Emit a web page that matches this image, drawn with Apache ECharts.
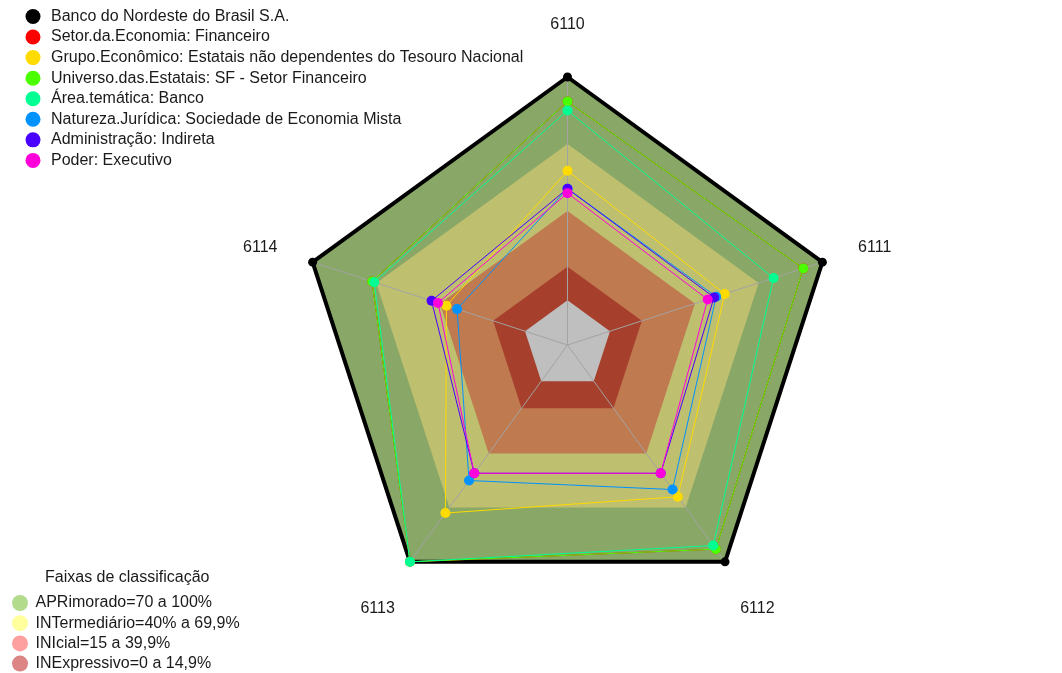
<!DOCTYPE html>
<html>
<head>
<meta charset="utf-8">
<script src="https://cdn.jsdelivr.net/npm/echarts@6/dist/echarts.min.js"></script>
<style>
  html, body { margin: 0; padding: 0; background: #ffffff; }
  #chart { width: 1062px; height: 673px; }
</style>
</head>
<body>
<div id="chart"></div>
<script>
// Indicators (axes), listed clockwise from the top
const indicators = ['6110', '6111', '6112', '6113', '6114'];

// Percent scores per indicator, same order as above
const bancoNordeste   = [100, 100, 100, 100, 100];
const setorFinanceiro = [89, 91, 93, 100, 72];
const grupoEconomico  = [58, 54, 64, 73, 37];
const universoSF      = [89, 91, 93, 100, 72];
const areaBanco       = [85, 77, 91, 100, 71];
const naturezaSEM     = [50, 50, 60, 55, 32];
const adminIndireta   = [50, 49, 51, 51, 44];
const poderExecutivo  = [48, 46, 51, 51, 41];

const seriesNames = [
  'Banco do Nordeste do Brasil S.A.',
  'Setor.da.Economia: Financeiro',
  'Grupo.Econômico: Estatais não dependentes do Tesouro Nacional',
  'Universo.das.Estatais: SF - Setor Financeiro',
  'Área.temática: Banco',
  'Natureza.Jurídica: Sociedade de Economia Mista',
  'Administração: Indireta',
  'Poder: Executivo'
];
const seriesValues = [bancoNordeste, setorFinanceiro, grupoEconomico, universoSF,
                      areaBanco, naturezaSEM, adminIndireta, poderExecutivo];
const seriesColors = ['#000000', '#FF0000', '#FFDB00', '#49FF00',
                      '#00FF92', '#0092FF', '#4900FF', '#FF00DB'];

// Classification bands (upper bound of each band, in percent)
const bandNames  = ['APRimorado=70 a 100%', 'INTermediário=40% a 69,9%',
                    'INIcial=15 a 39,9%', 'INExpressivo=0 a 14,9%'];
const bandUpper  = [100, 70, 40, 15];
const bandFill   = ['#89A867', '#BFBF70', '#BF7A50', '#A63F2B'];
const bandLegend = ['#B3DB8C', '#FFFF9E', '#FFA0A0', '#DB8585'];
const baseFill   = '#BFBFBF';

const axisMin = -20;   // leaves an empty hub in the middle of the web
const axisMax = 100;

// ECharts lays radar axes out counter-clockwise, so walk the list
// top, then backwards, to get 6110 at the top and 6111 on the right.
const order = [0, 4, 3, 2, 1];
const reorder = arr => order.map(i => arr[i]);

const FONT = 'Liberation Sans, Arial, sans-serif';
const chart = echarts.init(document.getElementById('chart'), null, { renderer: 'canvas' });

const flat = v => indicators.map(() => v);

const bandSeries = bandNames.map((name, i) => ({
  type: 'radar',
  name: name,
  z: 1,
  silent: true,
  symbol: 'none',
  lineStyle: { width: 0, opacity: 0 },
  areaStyle: { color: bandFill[i], opacity: 1 },
  itemStyle: { color: bandFill[i] },
  data: [{ value: flat(bandUpper[i]), name: name }]
}));

bandSeries.push({
  type: 'radar',
  name: 'base',
  z: 1,
  silent: true,
  symbol: 'none',
  lineStyle: { width: 0, opacity: 0 },
  areaStyle: { color: baseFill, opacity: 1 },
  data: [{ value: flat(0), name: 'base' }]
});

const dataSeries = seriesNames.map((name, i) => {
  const isMain = i === 0;
  return {
    type: 'radar',
    name: name,
    z: 3,
    symbol: 'circle',
    symbolSize: isMain ? 9 : 10,
    lineStyle: { width: isMain ? 4 : 1, color: seriesColors[i] },
    itemStyle: { color: seriesColors[i] },
    data: [{ value: reorder(seriesValues[i]), name: name }]
  };
});

const option = {
  backgroundColor: '#ffffff',
  animation: false,
  textStyle: { fontFamily: FONT },
  title: {
    text: 'Faixas de classificação',
    left: 45,
    top: 570,
    padding: 0,
    textStyle: { fontSize: 16, fontWeight: 'normal', color: '#1a1a1a', fontFamily: FONT }
  },
  legend: [
    {
      data: seriesNames,
      orient: 'vertical',
      left: 25.5,
      top: 8.5,
      padding: 0,
      icon: 'circle',
      itemWidth: 26,
      itemHeight: 15,
      itemGap: 4.56,
      selectedMode: false,
      textStyle: { fontSize: 16, color: '#1a1a1a', fontFamily: FONT }
    },
    {
      data: bandNames.map((n, i) => ({ name: n, itemStyle: { color: bandLegend[i] } })),
      orient: 'vertical',
      left: 12,
      top: 595,
      padding: 0,
      icon: 'circle',
      itemWidth: 21,
      itemHeight: 16,
      itemGap: 4.2,
      selectedMode: false,
      textStyle: { fontSize: 16, color: '#1a1a1a', fontFamily: FONT }
    }
  ],
  radar: {
    z: 2,
    center: [567.5, 345],
    radius: 268,
    startAngle: 90,
    shape: 'polygon',
    splitNumber: 4,
    indicator: reorder(indicators).map(n => ({ name: n, min: axisMin, max: axisMax })),
    nameGap: 55,
    axisName: {
      color: '#1a1a1a',
      fontSize: 16,
      align: 'center',
      verticalAlign: 'middle',
      fontFamily: FONT,
      formatter: v => '{n|' + v + '}',
      rich: {
        n: { fontSize: 16, color: '#1a1a1a', fontFamily: FONT, padding: [5, 0, 0, 0] }
      }
    },
    axisLine: { lineStyle: { color: '#A3A3A3', width: 1 } },
    splitLine: { show: false },
    splitArea: { show: false },
    axisTick: { show: false },
    axisLabel: { show: false }
  },
  series: bandSeries.concat(dataSeries)
};

chart.setOption(option);
</script>
</body>
</html>
